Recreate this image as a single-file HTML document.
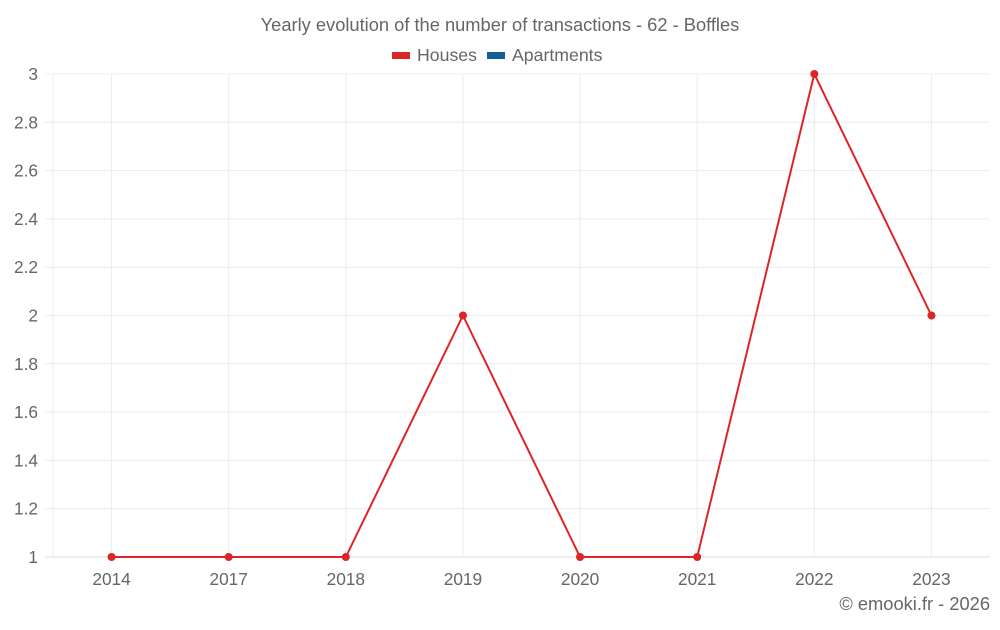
<!DOCTYPE html>
<html><head><meta charset="utf-8"><style>
body{margin:0;background:#fff;font-family:"Liberation Sans",sans-serif}
svg text{font-family:"Liberation Sans",sans-serif;fill:#666}
</style></head><body>
<svg id="c" width="1000" height="625" xmlns="http://www.w3.org/2000/svg">
<text x="500" y="31" text-anchor="middle" font-size="18.3">Yearly evolution of the number of transactions - 62 - Boffles</text>
<g>
<rect x="392" y="52" width="18" height="7" fill="#dc2626"/>
<text x="417" y="61" font-size="17.7">Houses</text>
<rect x="487" y="52" width="18" height="7" fill="#0e5f9c"/>
<text x="512" y="61" font-size="17.7">Apartments</text>
</g>
<g id="grid"></g><g id="plot"></g>
<text x="990" y="610" text-anchor="end" font-size="18.3">© emooki.fr - 2026</text>
</svg>
<script>
const categories=["2014","2017","2018","2019","2020","2021","2022","2023"];
const houses=[1,1,1,2,1,1,3,2];
const yTicks=[1,1.2,1.4,1.6,1.8,2,2.2,2.4,2.6,2.8,3];
const NS="http://www.w3.org/2000/svg";
const L=53,R=990,T=74,B=557,yMin=1,yMax=3;
const bw=(R-L)/categories.length;
const x=i=>L+bw*(i+0.5);
const y=v=>B-(v-yMin)/(yMax-yMin)*(B-T);
const g=document.getElementById('grid'),p=document.getElementById('plot');
function mk(t,a,parent){const e=document.createElementNS(NS,t);for(const k in a)e.setAttribute(k,a[k]);parent.appendChild(e);return e;}
yTicks.forEach(v=>{
 const l=mk('line',{x1:45,x2:R,y1:y(v),y2:y(v),stroke:v===yMin?'#dcdcdc':'#ececec'},g);
 
 
 const t=mk('text',{x:38,y:y(v)+6,'text-anchor':'end','font-size':17.3},g);
 t.textContent=String(v);
 
 
});
const ax=mk('line',{x1:L,x2:L,y1:T,y2:B,stroke:'#ececec'},g);


categories.forEach((c,i)=>{
 const l=mk('line',{x1:x(i),x2:x(i),y1:T,y2:B,stroke:'#ececec'},g);
 
 
 const t=mk('text',{x:x(i),y:585,'text-anchor':'middle','font-size':17.3},g);
 t.textContent=c;
 
 
});
const pl=mk('polyline',{points:houses.map((v,i)=>x(i)+','+y(v)).join(' '),fill:'none',stroke:'#dc2626','stroke-width':2},p);


houses.forEach((v,i)=>{
 const c=mk('circle',{cx:x(i),cy:y(v),r:4,fill:'#dc2626'},p);
 
 
});
</script>
</body></html>
